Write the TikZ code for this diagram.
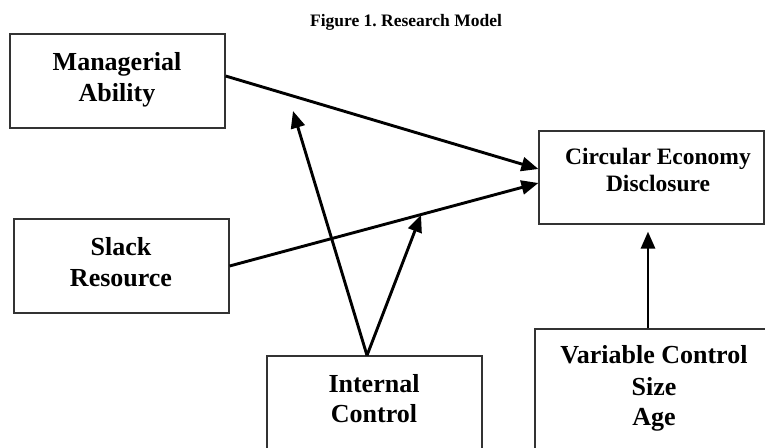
\documentclass[tikz,border=0pt]{standalone}
\usepackage{fontspec}
\setmainfont{Liberation Serif}
\usetikzlibrary{arrows.meta,calc}
\tikzset{
  box/.style={draw=black!80, line width=1.2pt, rectangle, inner sep=0pt},
  lbl/.style={font=\fontsize{26}{31}\selectfont\bfseries, inner sep=0pt, anchor=base},
  lblsm/.style={font=\fontsize{23.5}{27}\selectfont\bfseries, inner sep=0pt, anchor=base},
  ttl/.style={font=\fontsize{17.5}{21}\selectfont\bfseries, inner sep=0pt, anchor=base},
  arr/.style={line width=2.9pt, -{Triangle[length=17pt,width=14pt]}}
}
\begin{document}
\begin{tikzpicture}[x=1pt,y=-1pt]
\clip (0,0) rectangle (765,447);
\fill[white] (0,0) rectangle (765,447);
% title
\node[ttl] (title) at (406,27) {Figure 1.\ Research Model};
% boxes
\node[box, minimum width=215pt, minimum height=94pt] (ma) at (117.5,81) {};
\node[box, minimum width=225pt, minimum height=93pt] (ce) at (651.5,177.5) {};
\node[box, minimum width=215pt, minimum height=94pt] (sr) at (121.5,266) {};
\node[box, minimum width=215pt, minimum height=110pt] (ic) at (374.5,411) {};
\node[box, minimum width=231pt, minimum height=130pt] (vc) at (650.5,394) {};
% texts
\node[lbl] (ma1) at (117,70) {Managerial};
\node[lbl] (ma2) at (117,101) {Ability};
\node[lblsm] (ce1) at (658,164) {Circular Economy};
\node[lblsm] (ce2) at (658,191) {Disclosure};
\node[lbl] (sr1) at (121,255) {Slack};
\node[lbl] (sr2) at (121,286) {Resource};
\node[lbl] (ic1) at (374,392) {Internal};
\node[lbl] (ic2) at (374,422) {Control};
\node[lbl] (vc1) at (654,363) {Variable Control};
\node[lbl] (vc2) at (654,395) {Size};
\node[lbl] (vc3) at (654,425) {Age};
% moderation end points
\coordinate (m1) at (293,111);
\coordinate (m2) at (421,215);
\coordinate (vcs) at ($(vc.north)+(-2.5,0)$);
% connectors
\draw[arr] ($(ma.east)+(0,-5)$) -- ($(ce.west)+(0,-8.5)$);
\draw[arr] (sr.east) -- ($(ce.west)+(0,5.5)$);
\draw[arr] ($(ic.north)+(-7.5,0)$) -- (m1);
\draw[arr] ($(ic.north)+(-7.5,0)$) -- (m2);
\draw[arr, shorten >=7pt] (vcs) -- (vcs |- ce.south);
\end{tikzpicture}
\end{document}
